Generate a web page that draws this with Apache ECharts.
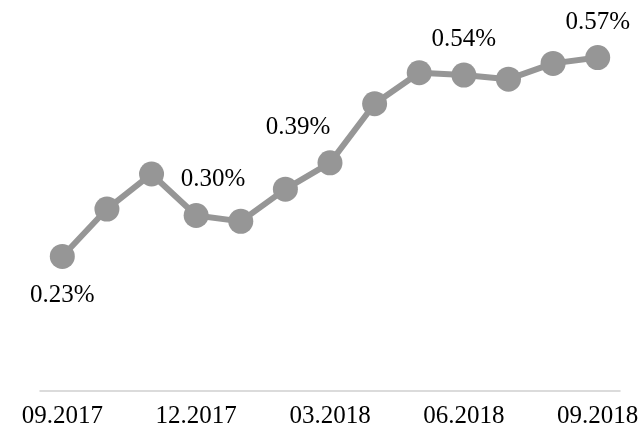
<!DOCTYPE html>
<html>
<head>
<meta charset="utf-8">
<script src="https://cdn.jsdelivr.net/npm/echarts@6/dist/echarts.min.js"></script>
<style>
  html, body { margin: 0; padding: 0; background: #fff; }
  #chart { width: 643px; height: 429px; }
</style>
</head>
<body>
<div id="chart"></div>
<script>
const categories = ['09.2017','10.2017','11.2017','12.2017','01.2018','02.2018','03.2018',
                    '04.2018','05.2018','06.2018','07.2018','08.2018','09.2018'];
const values = [0.23, 0.311, 0.371, 0.30, 0.29, 0.345, 0.39, 0.491, 0.544, 0.54, 0.533, 0.56, 0.57];
const labelledIdx = [0, 3, 6, 9, 12];

const labelStyle = {
  0: { position: 'bottom', distance: 14, offset: [0, 0] },
  3: { position: 'top', distance: 10, offset: [17, -1] },
  6: { position: 'top', distance: 10, offset: [-32, 0] },
  9: { position: 'top', distance: 10, offset: [0, -1] },
  12: { position: 'top', distance: 10, offset: [0, 0] }
};

const seriesData = values.map((v, i) => {
  const item = { value: v };
  if (labelledIdx.includes(i)) {
    const s = labelStyle[i];
    item.label = {
      show: true,
      position: s.position,
      distance: s.distance,
      offset: s.offset,
      formatter: p => p.value.toFixed(2) + '%',
      fontFamily: 'Liberation Serif',
      fontSize: 25,
      color: '#000'
    };
  }
  return item;
});

const chart = echarts.init(document.getElementById('chart'), null, { renderer: 'canvas' });
chart.setOption({
  animation: false,
  backgroundColor: '#fff',
  grid: { left: 40, right: 23, top: 40, bottom: 35, containLabel: false },
  xAxis: {
    type: 'category',
    data: categories,
    boundaryGap: true,
    axisLine: { show: true, lineStyle: { color: '#d0d0d0', width: 1.5 } },
    axisTick: { show: false },
    axisLabel: {
      interval: 2,
      margin: 13,
      fontFamily: 'Liberation Serif',
      fontSize: 25,
      color: '#000'
    },
    splitLine: { show: false }
  },
  yAxis: {
    type: 'value',
    min: 0,
    max: 0.6,
    show: false,
    splitLine: { show: false }
  },
  series: [{
    type: 'line',
    data: seriesData,
    symbol: 'circle',
    symbolSize: 25,
    lineStyle: { color: '#969696', width: 6 },
    itemStyle: { color: '#969696' },
    label: { show: false }
  }]
});
</script>
</body>
</html>
